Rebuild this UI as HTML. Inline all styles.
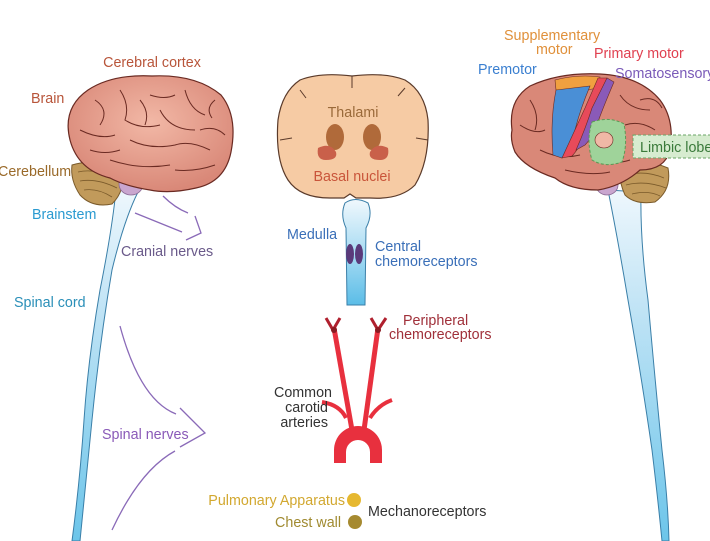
<!DOCTYPE html>
<html><head><meta charset="utf-8"><style>
html,body{margin:0;padding:0;background:#fff;}
svg{display:block;font-family:"Liberation Sans",Arial,sans-serif;}
</style></head><body>
<svg width="710" height="541" viewBox="0 0 710 541" xmlns="http://www.w3.org/2000/svg">
<defs>
<linearGradient id="cord" x1="0" y1="0" x2="0" y2="1">
<stop offset="0" stop-color="#eef7fd"/><stop offset="0.35" stop-color="#bfe3f5"/><stop offset="1" stop-color="#6cc5ea"/></linearGradient>
<linearGradient id="med" x1="0" y1="0" x2="0" y2="1">
<stop offset="0" stop-color="#f0f8fd"/><stop offset="0.5" stop-color="#a9dcf3"/><stop offset="1" stop-color="#5bbde7"/></linearGradient>
<radialGradient id="br" cx="0.5" cy="0.4" r="0.6"><stop offset="0" stop-color="#f2b8a6"/><stop offset="1" stop-color="#d98878"/></radialGradient>
</defs>

<!-- LEFT spinal cord -->
<path d="M116,190 Q112,230 100,290 Q88,360 84,420 Q80,480 72,541 L80,541 Q86,480 92,420 Q100,340 112,270 Q124,220 138,192 Z" fill="url(#cord)" stroke="#3a7fa8" stroke-width="1"/>
<!-- left cerebellum -->
<path d="M72,165 Q95,158 122,170 Q126,190 112,204 Q92,208 80,195 Q70,180 72,165 Z" fill="#c19a5b" stroke="#7a5a2a" stroke-width="1"/>
<path d="M78,172 Q95,168 115,178 M80,181 Q97,178 117,188 M84,190 Q98,188 112,197" stroke="#7a5a2a" stroke-width="0.8" fill="none"/>
<ellipse cx="131" cy="184" rx="12" ry="11" fill="#c9a6cf" stroke="#8a6a95" stroke-width="0.8"/>
<!-- left brain -->
<path d="M70,140 Q62,108 88,90 Q112,74 152,76 Q196,74 221,95 Q238,116 231,152 Q225,182 196,188 Q170,194 150,190 Q125,186 110,178 Q78,170 70,140 Z" fill="url(#br)" stroke="#6a2a22" stroke-width="1.2"/>
<path d="M95,100 Q110,110 100,125 M120,90 Q130,105 125,120 Q140,130 160,125 M150,95 Q165,100 175,95 M185,90 Q190,110 205,115 M80,130 Q100,140 115,135 M130,140 Q150,150 175,145 Q190,140 210,150 M110,160 Q140,170 170,165 M200,130 Q215,125 225,135 M160,110 Q170,130 195,130 M90,150 Q105,155 120,150 M140,100 Q150,112 145,125 M175,170 Q195,172 215,165 M215,100 Q205,108 212,118" stroke="#6a2a22" stroke-width="1" fill="none"/>

<!-- RIGHT spinal cord -->
<path d="M608,190 Q618,240 628,300 Q642,380 652,450 Q658,500 662,541 L669,541 Q668,500 662,450 Q655,380 648,300 Q640,240 641,192 Z" fill="url(#cord)" stroke="#3a7fa8" stroke-width="1"/>
<path d="M620,165 Q645,158 668,168 Q672,190 655,202 Q635,205 625,195 Q618,180 620,165 Z" fill="#c19a5b" stroke="#7a5a2a" stroke-width="1"/>
<path d="M626,175 Q645,170 664,178 M626,185 Q645,180 666,188 M632,194 Q648,190 660,196" stroke="#7a5a2a" stroke-width="0.8" fill="none"/>
<ellipse cx="607" cy="185" rx="11" ry="10" fill="#c9a6cf" stroke="#8a6a95" stroke-width="0.8"/>
<path d="M512,130 Q508,100 530,86 Q560,72 600,74 Q640,76 660,100 Q675,120 670,150 Q665,170 640,170 Q622,186 598,190 Q570,190 555,178 Q525,168 515,152 Q510,140 512,130 Z" fill="#d98878" stroke="#6a2a22" stroke-width="1.2"/>
<path d="M530,100 Q540,115 535,130 M520,125 Q535,135 545,130 M620,95 Q630,110 650,110 M625,125 Q640,120 655,130 M540,150 Q560,160 580,155 M600,160 Q615,165 630,160 M565,170 Q590,176 610,172 M640,100 Q655,95 662,108" stroke="#6a2a22" stroke-width="1" fill="none"/>
<path d="M555,80 Q578,74 600,77 L598,88 Q578,92 556,90 Z" fill="#f0a040" stroke="#6a2a22" stroke-width="0.6"/>
<path d="M556,90 L590,86 Q580,110 575,130 Q568,150 562,158 L553,155 Q550,120 556,90 Z" fill="#4a8fd6" stroke="#6a2a22" stroke-width="0.6"/>
<path d="M598,78 L607,78 Q592,110 585,135 Q578,150 572,156 L562,158 Q575,130 585,108 Z" fill="#e84a5a" stroke="#6a2a22" stroke-width="0.6"/>
<path d="M607,78 L614,82 Q602,110 595,130 Q590,140 585,145 L576,150 Q585,130 592,108 Z" fill="#8a5ab8" stroke="#6a2a22" stroke-width="0.6"/>
<path d="M592,122 Q610,116 624,124 Q628,145 622,162 Q605,168 592,160 Q586,140 592,122 Z" fill="#9fd39a" stroke="#5a9a55" stroke-width="1" stroke-dasharray="3,2"/>
<ellipse cx="604" cy="140" rx="9" ry="8" fill="#f0b8a6" stroke="#6a2a22" stroke-width="0.6"/>
<rect x="633" y="135" width="80" height="23" fill="#d7ecd0" stroke="#6aa566" stroke-width="1" stroke-dasharray="3,2"/>

<!-- CENTER brain -->
<path d="M300,80 Q320,72 352,76 Q385,72 405,80 Q425,92 428,120 Q430,160 415,185 Q400,200 370,198 L356,198 L350,194 L344,198 L330,198 Q300,198 288,180 Q275,160 278,120 Q282,92 300,80 Z" fill="#f6cba4" stroke="#5a3a2a" stroke-width="1.2"/>
<path d="M352,76 L352,88 M280,140 L292,138 M428,140 L416,138 M300,90 L306,98 M405,88 L398,96" stroke="#5a3a2a" stroke-width="1" fill="none"/>
<ellipse cx="335" cy="137" rx="9" ry="13" fill="#b06a3a"/>
<ellipse cx="372" cy="137" rx="9" ry="13" fill="#b06a3a"/>
<path d="M318,148 Q330,142 336,152 Q338,160 326,160 Q316,160 318,148 Z" fill="#c9604a"/>
<path d="M388,148 Q376,142 370,152 Q368,160 380,160 Q390,160 388,148 Z" fill="#c9604a"/>
<!-- medulla -->
<path d="M345,203 Q355,196 368,203 Q373,215 366,228 L365,305 L347,305 L346,228 Q340,215 345,203 Z" fill="url(#med)" stroke="#3a7fa8" stroke-width="1"/>
<ellipse cx="350" cy="254" rx="4" ry="10" fill="#5a3a7a"/>
<ellipse cx="359" cy="254" rx="4" ry="10" fill="#5a3a7a"/>

<!-- arteries -->
<path d="M334,463 L334,450 A24,24 0 0 1 382,450 L382,463 L370,463 L370,452 A12,12 0 0 0 346,452 L346,463 Z" fill="#e8303e"/>
<path d="M352,430 Q343,380 334,328" stroke="#e8303e" stroke-width="5" fill="none"/>
<path d="M364,430 Q371,380 378,328" stroke="#e8303e" stroke-width="5" fill="none"/>
<path d="M346,418 Q340,405 322,402 M370,418 Q378,405 392,400" stroke="#e8303e" stroke-width="4" fill="none"/>
<path d="M326,318 L333,330 L340,318 M371,318 L378,330 L386,318" stroke="#b0202e" stroke-width="3" fill="none"/>
<circle cx="334" cy="330" r="3" fill="#8a1a22"/><circle cx="378" cy="330" r="3" fill="#8a1a22"/>

<circle cx="354" cy="500" r="7" fill="#e6b830"/>
<circle cx="355" cy="522" r="7" fill="#a68a30"/>

<!-- nerves -->
<g stroke="#8a6ab8" stroke-width="1.3" fill="none">
<path d="M163,196 Q175,208 188,213"/>
<path d="M135,213 L182,232"/>
<path d="M195,216 L201,233 L186,240"/>
<path d="M120,326 Q140,400 176,414"/>
<path d="M180,408 L205,433 L180,447"/>
<path d="M112,530 Q140,470 175,451"/>
</g>

<!-- labels -->
<g font-size="14.3">
<text x="152" y="67" text-anchor="middle" fill="#b8553a">Cerebral cortex</text>
<text x="31" y="103" fill="#b8553a">Brain</text>
<text x="-2" y="176" fill="#9a6a2a">Cerebellum</text>
<text x="32" y="219" fill="#2a9ad0">Brainstem</text>
<text x="121" y="256" fill="#6a5a8a">Cranial nerves</text>
<text x="14" y="307" fill="#2a8fb8">Spinal cord</text>
<text x="102" y="439" fill="#8a5ab8">Spinal nerves</text>
<text x="353" y="117" text-anchor="middle" fill="#9a6a3a">Thalami</text>
<text x="352" y="181" text-anchor="middle" fill="#c9553a">Basal nuclei</text>
<text x="287" y="239" fill="#3a6fb8">Medulla</text>
<text x="375" y="251" fill="#3a6fb8">Central</text>
<text x="375" y="266" fill="#3a6fb8">chemoreceptors</text>
<text x="403" y="325" fill="#a0303a">Peripheral</text>
<text x="389" y="339" fill="#a0303a">chemoreceptors</text>
<text x="332" y="397" text-anchor="end" fill="#333">Common</text>
<text x="328" y="412" text-anchor="end" fill="#333">carotid</text>
<text x="328" y="427" text-anchor="end" fill="#333">arteries</text>
<text x="345" y="505" text-anchor="end" fill="#d2a830">Pulmonary Apparatus</text>
<text x="341" y="527" text-anchor="end" fill="#a08a30">Chest wall</text>
<text x="368" y="516" fill="#333">Mechanoreceptors</text>
<text x="504" y="40" fill="#e0903a">Supplementary</text>
<text x="536" y="54" fill="#e0903a">motor</text>
<text x="594" y="58" fill="#e04050">Primary motor</text>
<text x="478" y="74" fill="#3a7fd0">Premotor</text>
<text x="615" y="78" fill="#7a5ab8">Somatosensory</text>
<text x="640" y="152" fill="#3a7a3a">Limbic lobe</text>
</g>
</svg>
</body></html>
